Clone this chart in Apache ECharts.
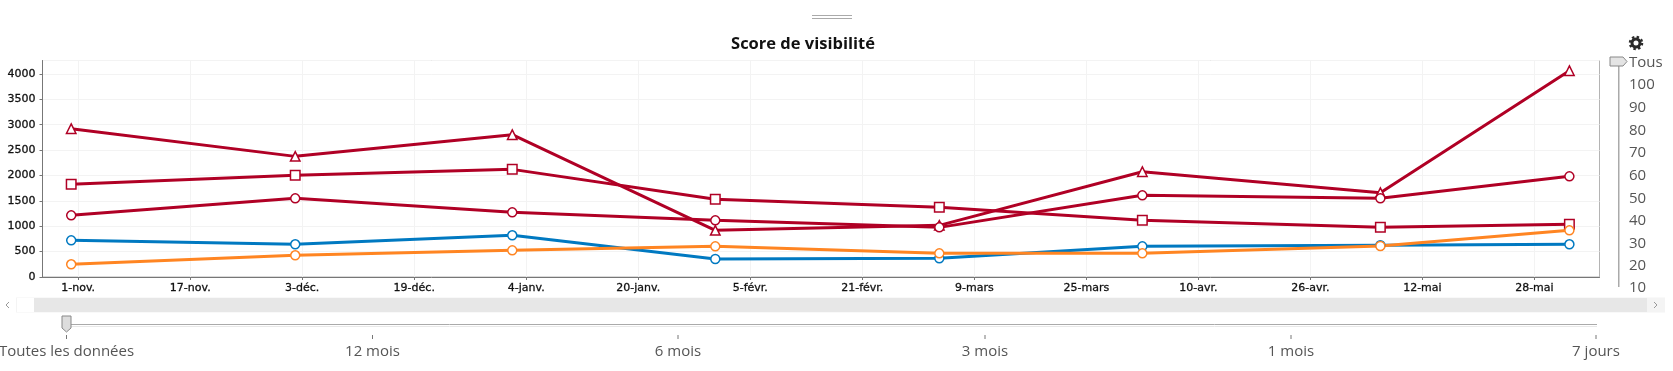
<!DOCTYPE html>
<html>
<head>
<meta charset="utf-8">
<title>Score de visibilité</title>
<script src="https://cdn.jsdelivr.net/npm/echarts@6/dist/echarts.min.js"></script>
<style>
  html, body { margin: 0; padding: 0; background: #fff; }
  #chart { width: 1673px; height: 371px; }
</style>
</head>
<body>
<div id="chart"></div>
<script>
// Day offsets from 1-nov for the readings
const days = [-1, 31, 62, 91, 123, 152, 186, 213];

const triangleValues = [2922, 2377, 2804, 919, 1018, 2075, 1661, 4065];
const squareValues = [1826, 2003, 2121, 1530, 1372, 1116, 978, 1037];
const circleValues = [1215, 1550, 1274, 1116, 978, 1609, 1550, 1983];
const blueValues = [722, 644, 821, 355, 368, 604, 624, 644];
const orangeValues = [250, 427, 525, 604, 466, 466, 611, 919];

const xTickDays = [0, 16, 32, 48, 64, 80, 96, 112, 128, 144, 160, 176, 192, 208];
const xTickLabels = ['1-nov.', '17-nov.', '3-déc.', '19-déc.', '4-janv.', '20-janv.', '5-févr.',
  '21-févr.', '9-mars', '25-mars', '10-avr.', '26-avr.', '12-mai', '28-mai'];

const periodLabels = ['Toutes les données', '12 mois', '6 mois', '3 mois', '1 mois', '7 jours'];
const periodX = [66.5, 372.5, 678, 985, 1291, 1596];
const depthLabels = ['Tous', '100', '90', '80', '70', '60', '50', '40', '30', '20', '10'];
const depthY = [63, 85, 108, 131, 153, 176, 199, 221, 244, 266, 288];

const RED = '#b00025';
const BLUE = '#0079c1';
const ORANGE = '#ff8522';
const SIDE_FONT = { fontFamily: 'Open Sans', fontSize: 15, fill: '#555' };
const TICK_FONT = { color: '#111', fontFamily: 'DejaVu Sans', fontSize: 11, textBorderColor: '#111', textBorderWidth: 0.3 };

const lineSeries = (name, values, color, symbol) => ({
  name,
  type: 'line',
  data: days.map((d, i) => [d, values[i]]),
  symbol,
  symbolSize: symbol === 'circle' ? 9 : 9.5,
  showSymbol: true,
  animation: false,
  lineStyle: { color, width: 3 },
  itemStyle: { color: '#fff', borderColor: color, borderWidth: 1.5 },
});

// Scrollbar, sliders and the rest of the widget chrome around the plot
const chrome = [
  { type: 'line', shape: { x1: 812, y1: 15.5, x2: 852, y2: 15.5 }, style: { stroke: '#aaa' } },
  { type: 'line', shape: { x1: 812, y1: 18.5, x2: 852, y2: 18.5 }, style: { stroke: '#aaa' } },
  // horizontal scrollbar
  { type: 'rect', shape: { x: 16, y: 297.5, width: 1649, height: 15 }, style: { fill: '#f4f4f4' } },
  { type: 'rect', shape: { x: 17, y: 298, width: 17, height: 14 }, style: { fill: '#fff' } },
  { type: 'rect', shape: { x: 34, y: 298, width: 1613, height: 14 }, style: { fill: '#e7e7e7' } },
  { type: 'polyline', shape: { points: [[9, 302], [6, 305], [9, 308]] }, style: { stroke: '#999', fill: null } },
  { type: 'polyline', shape: { points: [[1654, 302], [1657, 305], [1654, 308]] }, style: { stroke: '#999', fill: null } },
  // period slider
  { type: 'line', shape: { x1: 67, y1: 324.5, x2: 1597, y2: 324.5 }, style: { stroke: '#aaa' } },
  { type: 'line', shape: { x1: 67, y1: 326.5, x2: 1597, y2: 326.5 }, style: { stroke: '#e8e8e8' } },
  { type: 'polygon', shape: { points: [[62, 316], [71, 316], [71, 328], [66.5, 332], [62, 328]] }, style: { fill: '#ddd', stroke: '#888' } },
  // depth slider
  { type: 'rect', shape: { x: 1618, y: 62, width: 1.5, height: 225 }, style: { fill: '#aaa' } },
  { type: 'polygon', shape: { points: [[1610, 57], [1623, 57], [1627, 61.5], [1623, 66], [1610, 66]] }, style: { fill: '#e4e4e4', stroke: '#888' } },
  // gear
  { type: 'circle', shape: { cx: 1636, cy: 43, r: 4 }, style: { fill: 'none', stroke: '#2b2b2b', lineWidth: 3 } },
  { type: 'circle', shape: { cx: 1636, cy: 43, r: 6 }, style: { fill: 'none', stroke: '#2b2b2b', lineWidth: 2.5, lineDash: [2.4, 2.3] } },
];
periodLabels.forEach((text, i) => {
  chrome.push({ type: 'line', shape: { x1: periodX[i], y1: 335, x2: periodX[i], y2: 339 }, style: { stroke: '#777' } });
  chrome.push({
    type: 'text',
    x: periodX[i],
    y: 352,
    style: { text, ...SIDE_FONT, textAlign: 'center', textVerticalAlign: 'middle' },
  });
});
depthLabels.forEach((text, i) => {
  chrome.push({
    type: 'text',
    x: 1629,
    y: depthY[i],
    style: { text, ...SIDE_FONT, textAlign: 'left', textVerticalAlign: 'middle' },
  });
});

const chart = echarts.init(document.getElementById('chart'), null, { renderer: 'canvas' });
chart.setOption({
  animation: false,
  title: {
    text: 'Score de visibilité',
    left: 798,
    top: 31,
    textAlign: 'center',
    textStyle: { fontFamily: 'Open Sans', fontSize: 16.5, fontWeight: 'bold', color: '#111' },
  },
  grid: { show: true, left: 42.5, top: 60.5, width: 1557, height: 216.5, borderColor: '#b4b4b4', borderWidth: 1, backgroundColor: '#fff' },
  xAxis: {
    type: 'value',
    min: -5.1,
    max: 217.3,
    axisLine: { onZero: false, lineStyle: { color: '#777' } },
    axisTick: { customValues: xTickDays, length: 3, lineStyle: { color: '#777' } },
    axisLabel: {
      customValues: xTickDays,
      formatter: (v) => xTickLabels[xTickDays.indexOf(v)],
      ...TICK_FONT,
      margin: 6,
    },
    splitLine: { show: true, lineStyle: { color: '#f3f3f3' } },
  },
  yAxis: {
    type: 'value',
    min: 0,
    max: 4266,
    interval: 500,
    axisLine: { show: true, onZero: false, lineStyle: { color: '#777' } },
    axisTick: { show: true, length: 3, lineStyle: { color: '#777' } },
    axisLabel: {
      showMaxLabel: false,
      formatter: (v) => String(v),
      ...TICK_FONT,
      margin: 7,
    },
    splitLine: { show: true, lineStyle: { color: '#f3f3f3' } },
  },
  series: [
    lineSeries('Triangle', triangleValues, RED, 'triangle'),
    lineSeries('Carré', squareValues, RED, 'rect'),
    lineSeries('Cercle', circleValues, RED, 'circle'),
    lineSeries('Bleu', blueValues, BLUE, 'circle'),
    lineSeries('Orange', orangeValues, ORANGE, 'circle'),
  ],
  graphic: chrome,
});
</script>
</body>
</html>
